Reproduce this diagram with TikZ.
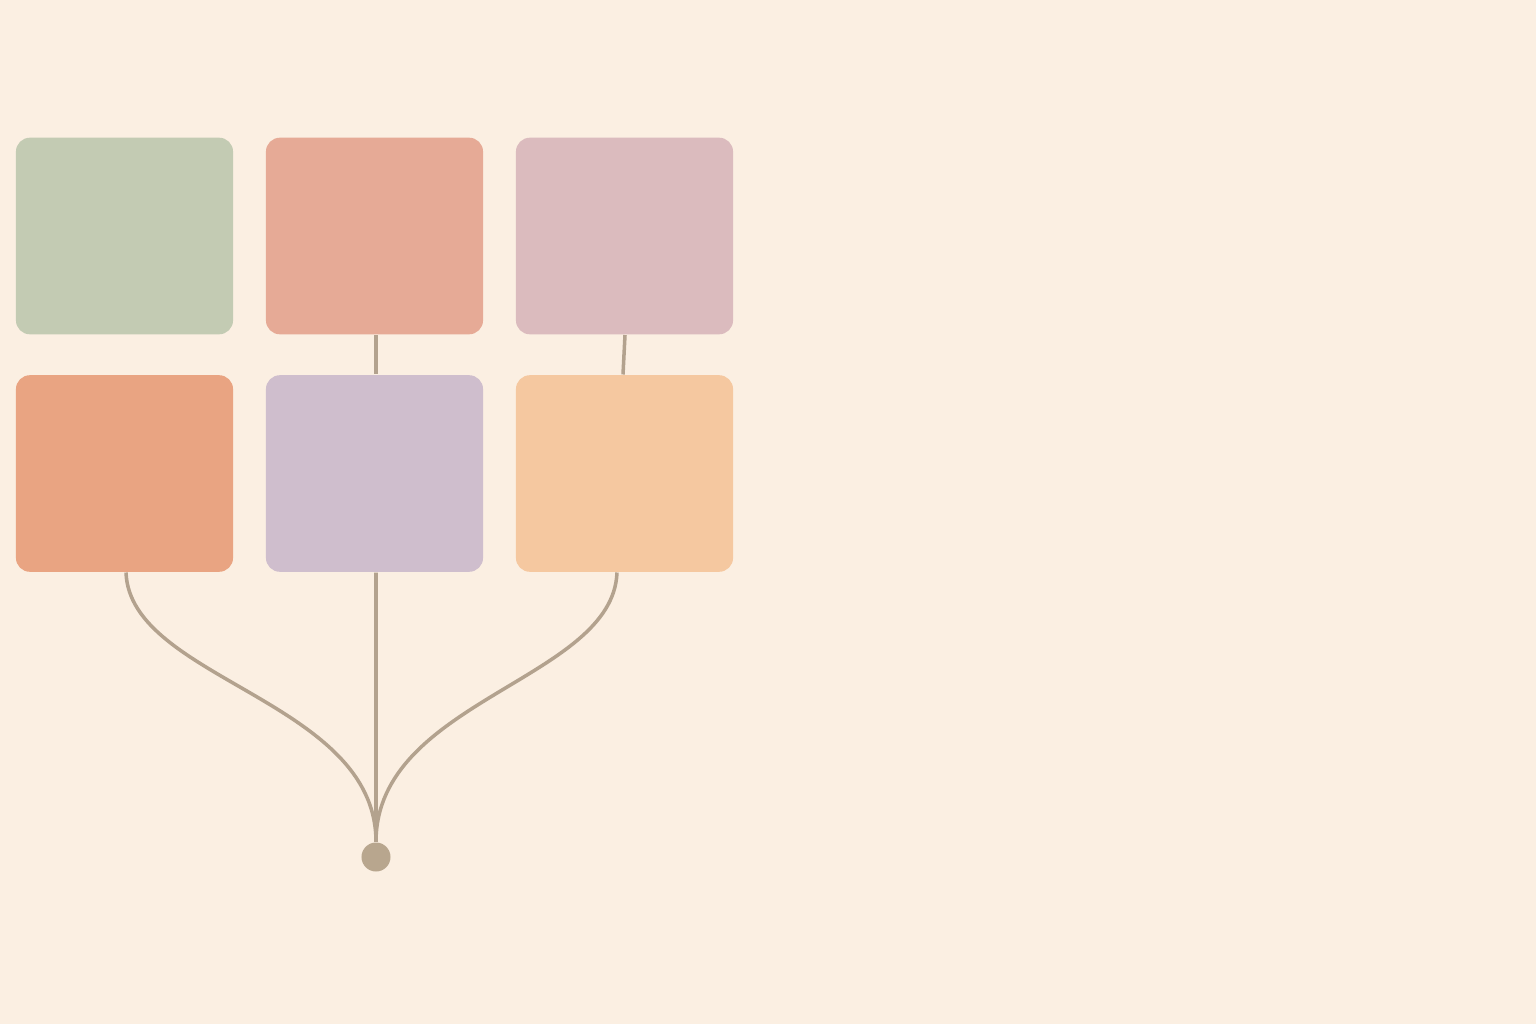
\documentclass[tikz,border=0pt]{standalone}
\usetikzlibrary{calc}
\definecolor{bg}{HTML}{FBEFE2}
\definecolor{cA}{HTML}{C3CBB3}
\definecolor{cB}{HTML}{E6AA96}
\definecolor{cC}{HTML}{DBBBBE}
\definecolor{cD}{HTML}{E9A482}
\definecolor{cE}{HTML}{CFBECD}
\definecolor{cF}{HTML}{F5C8A0}
\definecolor{ln}{HTML}{B3A28E}
\definecolor{dt}{HTML}{B8A68E}
\begin{document}
\begin{tikzpicture}[x=0.01cm,y=-0.01cm,
  tile/.style={rectangle,rounded corners=0.14cm,minimum width=2.17cm,minimum height=1.965cm,inner sep=0pt,draw=none},
  wire/.style={draw=ln,line width=1pt},
  hub/.style={circle,fill=dt,minimum size=0.29cm,inner sep=0pt,draw=none}]
\fill[bg] (0,0) rectangle (1536,1024);
\useasboundingbox (0,0) rectangle (1536,1024);
\node[tile,fill=cA] (b1) at (124.5,236) {};
\node[tile,fill=cB] (b2) at (374.5,236) {};
\node[tile,fill=cC] (b3) at (624.5,236) {};
\node[tile,fill=cD] (b4) at (124.5,473.5) {};
\node[tile,fill=cE] (b5) at (374.5,473.5) {};
\node[tile,fill=cF] (b6) at (624.5,473.5) {};
\node[hub] (dot) at (376,857) {};
\draw[wire] ([xshift=0.015cm]b2.south) -- ([xshift=0.015cm]b5.north);
\draw[wire] ([xshift=0.005cm]b3.south) -- ([xshift=-0.015cm]b6.north);
\draw[wire] ([xshift=0.015cm]b5.south) -- (dot.north);
\draw[wire] ([xshift=0.015cm]b4.south) .. controls (130,680) and (376,700) .. (dot.north);
\draw[wire] ([xshift=-0.075cm]b6.south) .. controls (613,680) and (376,700) .. (dot.north);
\end{tikzpicture}
\end{document}
